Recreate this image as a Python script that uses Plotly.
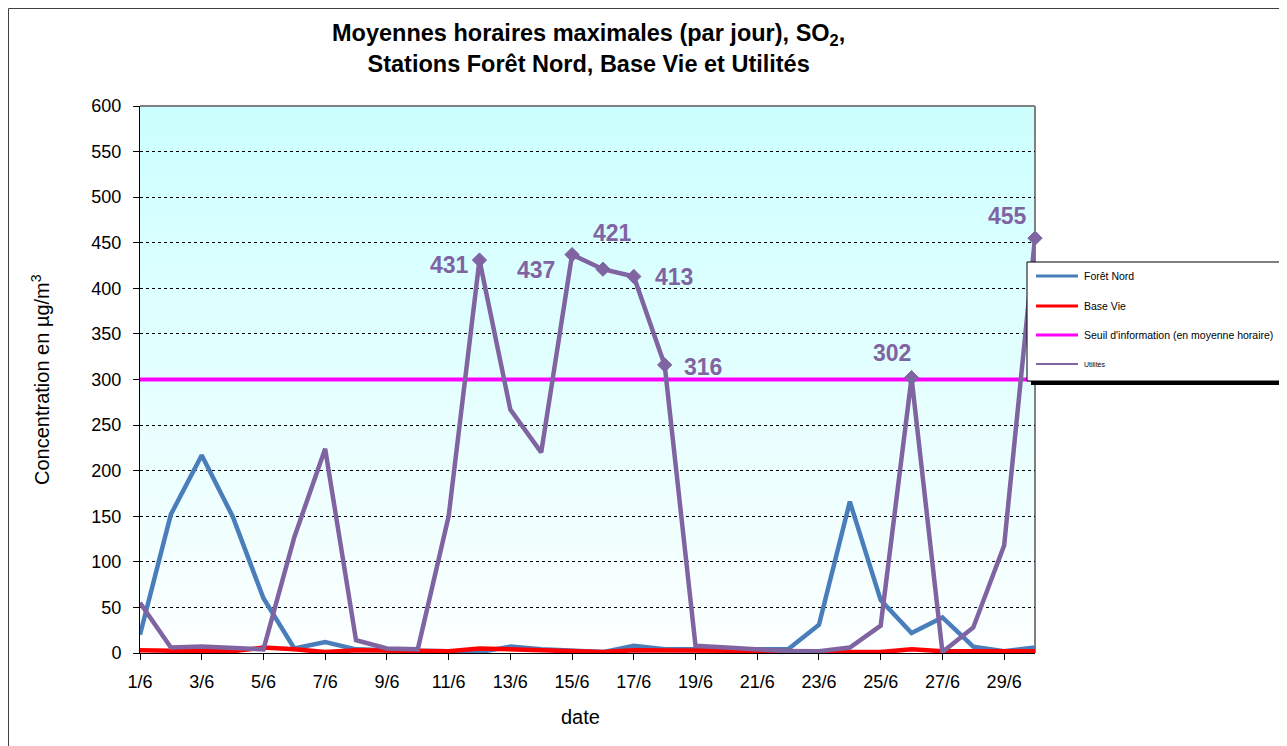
import plotly.graph_objects as go

# ---------------- data ----------------
days = list(range(1, 31))
tick_days = list(range(1, 31, 2))
tick_labels = [f"{d}/6" for d in tick_days]

foret_nord = [20, 152, 217, 150, 60, 5, 12, 4, 3, 3, 2, 1, 7, 4, 2, 1, 8, 4, 4, 4,
              3, 4, 31, 166, 58, 22, 39, 7, 2, 6]
base_vie = [3, 2, 2, 2, 6, 4, 1, 3, 3, 2, 2, 5, 4, 2, 2, 1, 3, 3, 3, 3,
            2, 2, 2, 1, 1, 4, 2, 2, 2, 2]
seuil = [300] * 30
utilites = [55, 6, 7, 5, 4, 127, 224, 14, 5, 4, 150, 431, 267, 220, 437, 421, 413, 316, 8, 6,
            4, 2, 2, 6, 30, 302, 1, 28, 118, 455]

labeled_days = [12, 15, 16, 17, 18, 26, 30]
label_dx = [-30, -36, 10, 40, 38, -20, -28]
label_dy = [-5, -15, 36, -1, -2, 25, 22]

series_names = ["Forêt Nord", "Base Vie", "Seuil d'information (en moyenne horaire)", "Utilités"]
series_colors = ["#4A7EBB", "#FF0000", "#FF00FF", "#8064A2"]

# ---------------- layout geometry (reference page pixels) ----------------
W, H = 1287, 746
OFF = 8  # page body margin
L, R, T, B = 140, 1035, 106, 653
FONT = "Liberation Sans, Arial, sans-serif"


def px(x):
    return (x - L) / (R - L)


def py(y):
    return (B - y) / (B - T)


fig = go.Figure()

fig.add_trace(go.Scatter(x=days, y=foret_nord, mode="lines", name=series_names[0],
                         line=dict(color=series_colors[0], width=4.5)))
fig.add_trace(go.Scatter(x=days, y=base_vie, mode="lines", name=series_names[1],
                         line=dict(color=series_colors[1], width=4.5)))
fig.add_trace(go.Scatter(x=days, y=seuil, mode="lines", name=series_names[2],
                         line=dict(color=series_colors[2], width=4)))
msizes = [11 if d in labeled_days else 0 for d in days]
fig.add_trace(go.Scatter(x=days, y=utilites, mode="lines+markers", name=series_names[3],
                         line=dict(color=series_colors[3], width=4.5),
                         marker=dict(symbol="diamond", size=msizes, color=series_colors[3],
                                     opacity=1, line=dict(color=series_colors[3], width=1)),
                         cliponaxis=False))

annotations = []
for d, dx, dy in zip(labeled_days, label_dx, label_dy):
    v = utilites[d - 1]
    annotations.append(dict(x=d, y=v, xref="x", yref="y", text=f"<b>{v}</b>", showarrow=False,
                            xshift=dx, yshift=dy,
                            font=dict(family=FONT, size=23, color=series_colors[3])))

# titles
annotations.append(dict(x=px(588), y=py(48), xref="paper", yref="paper", showarrow=False,
                        text="<b>Moyennes horaires maximales (par jour), SO<sub>2</sub>,<br>Stations Forêt Nord, Base Vie et Utilités</b>",
                        font=dict(family=FONT, size=23.5, color="black"), xanchor="center", yanchor="middle"))
annotations.append(dict(x=px(40), y=py(380), xref="paper", yref="paper", showarrow=False,
                        text="Concentration en µg/m<sup>3</sup>", textangle=-90,
                        font=dict(family=FONT, size=20, color="black"), xanchor="center", yanchor="middle"))
annotations.append(dict(x=px(580), y=py(717), xref="paper", yref="paper", showarrow=False,
                        text="date", font=dict(family=FONT, size=20, color="black"),
                        xanchor="center", yanchor="middle"))

shapes = []
# gradient background of plot area
N = 80
top_c = (204, 255, 255)
bot_c = (252, 255, 255)
for i in range(N):
    f = i / (N - 1)
    c = tuple(round(top_c[k] + (bot_c[k] - top_c[k]) * f) for k in range(3))
    y1 = 1 - i / N
    y0 = 1 - (i + 1) / N
    shapes.append(dict(type="rect", xref="paper", yref="paper", x0=0, x1=1, y0=y0 - 0.002, y1=y1,
                       fillcolor=f"rgb{c}", line=dict(width=0), layer="below"))
# plot area border (top/right gray)
shapes.append(dict(type="line", xref="paper", yref="paper", x0=0, x1=1, y0=1, y1=1,
                   line=dict(color="#808080", width=2)))
shapes.append(dict(type="line", xref="paper", yref="paper", x0=1, x1=1, y0=0, y1=1,
                   line=dict(color="#808080", width=2), layer="below"))
# chart outer border
shapes.append(dict(type="rect", xref="paper", yref="paper", x0=px(OFF + 0.5), x1=px(1300), y0=py(760),
                   y1=py(OFF + 0.5),
                   line=dict(color="#404040", width=1), fillcolor="rgba(0,0,0,0)", layer="below"))

# legend box (manual)
lx0, lx1, ly0, ly1 = 1027, 1281, 262, 381
shapes.append(dict(type="rect", xref="paper", yref="paper", x0=px(lx0 + 4), x1=px(lx1 + 4),
                   y0=py(ly1 + 4), y1=py(ly0 + 4), fillcolor="black", line=dict(width=0)))
shapes.append(dict(type="rect", xref="paper", yref="paper", x0=px(lx0), x1=px(lx1),
                   y0=py(ly1), y1=py(ly0), fillcolor="white", line=dict(color="black", width=1)))
leg_rows = [276, 306, 335, 364]
leg_sizes = [10.5, 10.5, 10.5, 7]
for name, col, yy, fs in zip(series_names, series_colors, leg_rows, leg_sizes):
    shapes.append(dict(type="line", xref="paper", yref="paper", x0=px(1036), x1=px(1078),
                       y0=py(yy), y1=py(yy), line=dict(color=col, width=3 if fs > 8 else 2)))
    annotations.append(dict(x=px(1082), y=py(yy), xref="paper", yref="paper", showarrow=False,
                            text=name, xanchor="left", yanchor="middle",
                            font=dict(family=FONT, size=fs, color="black")))

fig.update_layout(
    width=W - OFF, height=H - OFF,
    margin=dict(l=L - OFF, r=W - R, t=T - OFF, b=H - B),
    paper_bgcolor="white",
    plot_bgcolor="rgba(0,0,0,0)",
    showlegend=False,
    font=dict(family=FONT, size=18, color="black"),
    shapes=shapes,
    annotations=annotations,
)
fig.update_xaxes(range=[1, 30], tickvals=tick_days, ticktext=tick_labels,
                 showline=True, linecolor="black", linewidth=1,
                 ticks="outside", ticklen=6, tickcolor="black",
                 ticklabelstandoff=6,
                 showgrid=False, zeroline=False,
                 tickfont=dict(family=FONT, size=18, color="black"))
fig.update_yaxes(range=[0, 600], dtick=50, tick0=0,
                 showline=True, linecolor="black", linewidth=1,
                 ticks="outside", ticklen=6, tickcolor="black",
                 ticklabelstandoff=8,
                 showgrid=True, gridcolor="black", gridwidth=1, griddash="dot",
                 zeroline=False,
                 tickfont=dict(family=FONT, size=18, color="black"))

fig.write_html("out.html")
